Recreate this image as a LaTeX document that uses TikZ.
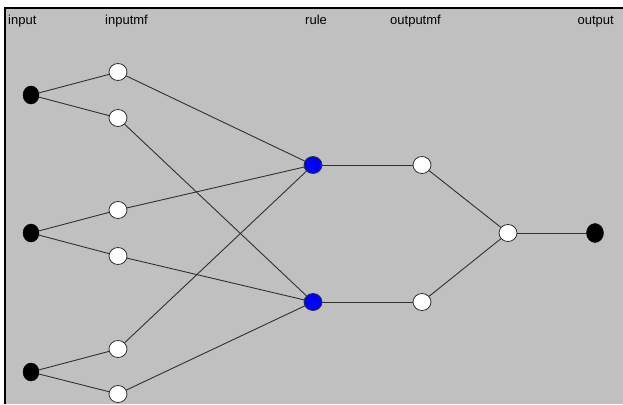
\documentclass[tikz,border=0pt]{standalone}
\usepackage{fontspec}
\setmainfont{Liberation Sans}
\usetikzlibrary{shapes.geometric}
\definecolor{panel}{HTML}{C0C0C0}
\definecolor{edgegray}{HTML}{303030}
\begin{document}
\begin{tikzpicture}[x=1pt,y=-1pt,
  lbl/.style={font=\fontsize{13}{13}\selectfont, inner sep=0pt, anchor=base west, text=black},
  innode/.style={ellipse, fill=black, draw=black, minimum width=16pt, minimum height=18pt, inner sep=0pt},
  mfnode/.style={ellipse, fill=white, draw=edgegray, line width=0.8pt, minimum width=18pt, minimum height=17pt, inner sep=0pt},
  rulenode/.style={ellipse, fill=blue, draw=edgegray, line width=0.8pt, minimum width=18pt, minimum height=17pt, inner sep=0pt},
  link/.style={draw=edgegray, line width=0.9pt}]
\useasboundingbox (0,0) rectangle (623,404);
\fill[white] (0,0) rectangle (623,404);
\fill[panel] (5,8) rectangle (623,404);
\draw[black, line width=1.2pt] (5,404) -- (5,8) -- (623,8);
% labels
\node[lbl] (tin) at (8,25) {input};
\node[lbl] (tinmf) at (105,25) {inputmf};
\node[lbl] (trule) at (305,25) {rule};
\node[lbl] (toutmf) at (390,25) {outputmf};
\node[lbl, anchor=base east] (tout) at (614,25) {output};
% nodes
\node[innode] (i1) at (31,95) {};
\node[innode] (i2) at (31,233) {};
\node[innode] (i3) at (31,372) {};
\node[mfnode] (m1) at (118,72) {};
\node[mfnode] (m2) at (118,118) {};
\node[mfnode] (m3) at (118,210) {};
\node[mfnode] (m4) at (118,256) {};
\node[mfnode] (m5) at (118,349) {};
\node[mfnode] (m6) at (118,394) {};
\node[rulenode] (r1) at (313,165) {};
\node[rulenode] (r2) at (313,302) {};
\node[mfnode] (o1) at (422,165) {};
\node[mfnode] (o2) at (422,302) {};
\node[mfnode] (om) at (508,233) {};
\node[innode, minimum width=17pt, minimum height=19pt] (out) at (595,233) {};
% connectors
\draw[link] (i1) -- (m1);
\draw[link] (i1) -- (m2);
\draw[link] (i2) -- (m3);
\draw[link] (i2) -- (m4);
\draw[link] (i3) -- (m5);
\draw[link] (i3) -- (m6);
\draw[link] (m1) -- (r1);
\draw[link] (m2) -- (r2);
\draw[link] (m3) -- (r1);
\draw[link] (m4) -- (r2);
\draw[link] (m5) -- (r1);
\draw[link] (m6) -- (r2);
\draw[link] (r1) -- (o1);
\draw[link] (r2) -- (o2);
\draw[link] (o1) -- (om);
\draw[link] (o2) -- (om);
\draw[link] (om) -- (out);
\end{tikzpicture}
\end{document}
